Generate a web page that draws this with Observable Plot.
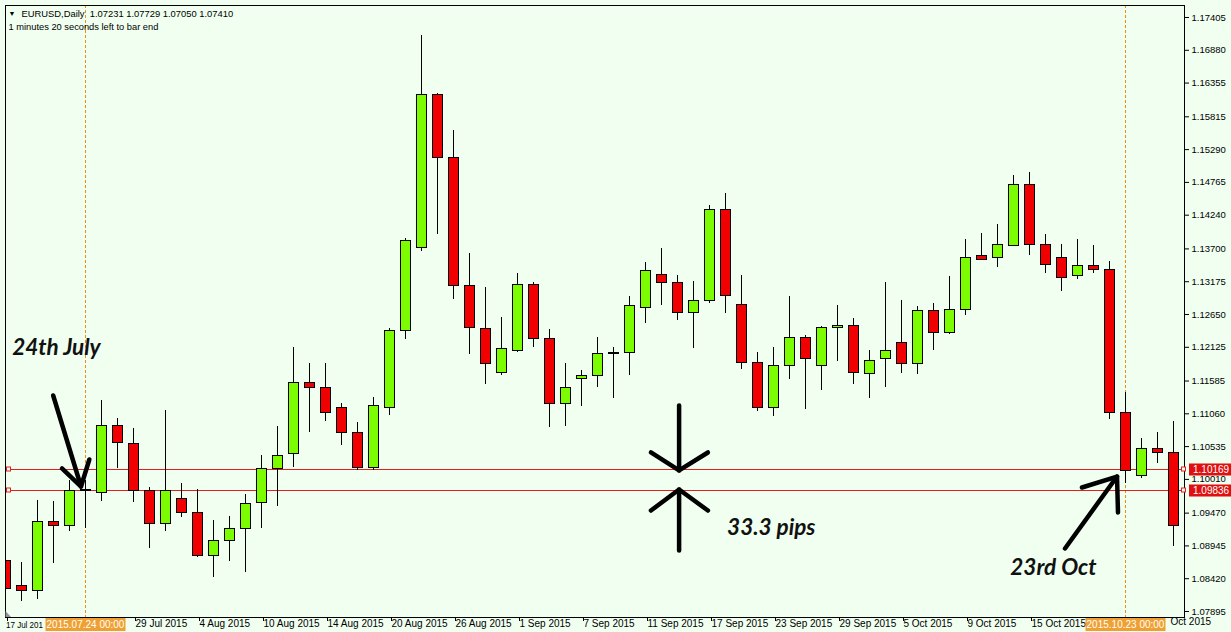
<!DOCTYPE html>
<html><head><meta charset="utf-8">
<script src="https://cdn.jsdelivr.net/npm/d3@7"></script>
<script src="https://cdn.jsdelivr.net/npm/@observablehq/plot@0.6"></script>
<style>
body{margin:0;background:#F0FFF0;}
#chart{position:relative;width:1231px;height:632px;overflow:hidden;}
</style>
</head><body><div id="chart"></div>
<script>
// ---- data (EURUSD daily) ----
const dates = ["2015-07-17","2015-07-20","2015-07-21","2015-07-22","2015-07-23","2015-07-24",
"2015-07-27","2015-07-28","2015-07-29","2015-07-30","2015-07-31",
"2015-08-03","2015-08-04","2015-08-05","2015-08-06","2015-08-07",
"2015-08-10","2015-08-11","2015-08-12","2015-08-13","2015-08-14",
"2015-08-17","2015-08-18","2015-08-19","2015-08-20","2015-08-21",
"2015-08-24","2015-08-25","2015-08-26","2015-08-27","2015-08-28",
"2015-08-31","2015-09-01","2015-09-02","2015-09-03","2015-09-04",
"2015-09-07","2015-09-08","2015-09-09","2015-09-10","2015-09-11",
"2015-09-14","2015-09-15","2015-09-16","2015-09-17","2015-09-18",
"2015-09-21","2015-09-22","2015-09-23","2015-09-24","2015-09-25",
"2015-09-28","2015-09-29","2015-09-30","2015-10-01","2015-10-02",
"2015-10-05","2015-10-06","2015-10-07","2015-10-08","2015-10-09",
"2015-10-12","2015-10-13","2015-10-14","2015-10-15","2015-10-16",
"2015-10-19","2015-10-20","2015-10-21","2015-10-22","2015-10-23",
"2015-10-26","2015-10-27","2015-10-28"];
const opens = [1.0871,1.0830,1.0822,1.0932,1.0926,1.0983,
1.0980,1.1087,1.1057,1.0982,1.0930,
1.0969,1.0948,1.0879,1.0903,1.0922,
1.0964,1.1017,1.1041,1.1156,1.1148,
1.1115,1.1076,1.1020,1.1116,1.1238,
1.1372,1.1616,1.1515,1.1310,1.1242,
1.1171,1.1206,1.1313,1.1225,1.1121,
1.1161,1.1167,1.1201,1.1203,1.1276,
1.1329,1.1315,1.1268,1.1287,1.1432,
1.1281,1.1187,1.1116,1.1183,1.1228,
1.1183,1.1243,1.1247,1.1169,1.1193,
1.1219,1.1185,1.1270,1.1235,1.1273,
1.1358,1.1356,1.1375,1.1472,1.1377,
1.1356,1.1326,1.1343,1.1337,1.1107,
1.1006,1.1050,1.1044];
const highs = [1.0903,1.0868,1.0967,1.0966,1.0999,1.0999,
1.1127,1.1099,1.1082,1.0988,1.1111,
1.0994,1.0985,1.0935,1.0942,1.0977,
1.1039,1.1086,1.1212,1.1187,1.1187,
1.1123,1.1092,1.1132,1.1243,1.1387,
1.1712,1.1619,1.1560,1.1363,1.1308,
1.1260,1.1331,1.1316,1.1241,1.1187,
1.1175,1.1228,1.1212,1.1294,1.1348,
1.1371,1.1328,1.1318,1.1440,1.1459,
1.1328,1.1204,1.1212,1.1294,1.1231,
1.1246,1.1279,1.1259,1.1207,1.1316,
1.1287,1.1278,1.1283,1.1326,1.1385,
1.1395,1.1409,1.1488,1.1492,1.1393,
1.1377,1.1385,1.1375,1.1350,1.1140,
1.1066,1.1076,1.1094];
const lows = [1.0807,1.0806,1.0809,1.0866,1.0918,1.0922,
1.0966,1.1018,1.0964,1.0890,1.0918,
1.0940,1.0876,1.0844,1.0870,1.0852,
1.0922,1.0958,1.1020,1.1076,1.1094,
1.1055,1.1015,1.1015,1.1103,1.1225,
1.1366,1.1393,1.1289,1.1201,1.1153,
1.1167,1.1204,1.1212,1.1084,1.1086,
1.1118,1.1148,1.1131,1.1167,1.1251,
1.1279,1.1255,1.1211,1.1283,1.1267,
1.1177,1.1110,1.1102,1.1161,1.1113,
1.1143,1.1190,1.1153,1.1131,1.1148,
1.1171,1.1169,1.1207,1.1233,1.1263,
1.1351,1.1340,1.1374,1.1360,1.1331,
1.1302,1.1321,1.1331,1.1097,1.0994,
1.1002,1.1026,1.0894];
const closes = [1.0826,1.0822,1.0932,1.0926,1.0983,1.0984,
1.1086,1.1059,1.0982,1.0930,1.0983,
1.0948,1.0879,1.0902,1.0922,1.0962,
1.1017,1.1039,1.1155,1.1148,1.1108,
1.1076,1.1020,1.1118,1.1239,1.1383,
1.1616,1.1515,1.1310,1.1244,1.1185,
1.1209,1.1313,1.1225,1.1121,1.1147,
1.1167,1.1201,1.1204,1.1278,1.1335,
1.1315,1.1267,1.1287,1.1432,1.1294,
1.1187,1.1116,1.1183,1.1228,1.1193,
1.1243,1.1247,1.1172,1.1191,1.1207,
1.1185,1.1270,1.1236,1.1273,1.1356,
1.1353,1.1377,1.1472,1.1377,1.1345,
1.1324,1.1343,1.1337,1.1107,1.1015,
1.1050,1.1044,1.0926];
const yTicks = [1.17405,1.16880,1.16355,1.15815,1.15290,1.14765,1.14240,1.13700,1.13175,1.12650,
1.12125,1.11585,1.11060,1.10535,1.10010,1.09470,1.08945,1.08420,1.07895];
// date ticks every 4 bars; labels as visible in the chart (some are covered by the marker boxes)
const xTickIdx = [0,4,8,12,16,20,24,28,32,36,40,44,48,52,56,60,64,68,72];
const xTickLabels = ["","","29 Jul 2015","4 Aug 2015","10 Aug 2015","14 Aug 2015","20 Aug 2015",
"26 Aug 2015","1 Sep 2015","7 Sep 2015","11 Sep 2015","17 Sep 2015","23 Sep 2015","29 Sep 2015",
"5 Oct 2015","9 Oct 2015","15 Oct 2015","",""];
const firstTickHead = "17 Jul 201";
const lastTickTail = "Oct 2015";
const levels = [1.10169, 1.09836];
const markedBars = [5, 70];
const markedLabels = ["2015.07.24 00:00", "2015.10.23 00:00"];
const headerTitle = "EURUSD,Daily\u00A0\u00A01.07231 1.07729 1.07050 1.07410";
const headerSub = "1 minutes 20 seconds left to bar end";
const notes = [
  {text: "24th July", x: 0.42, y: 1.1212},
  {text: "33.3 pips", x: 45.1, y: 1.0924},
  {text: "23rd Oct", x: 62.8, y: 1.0860}
];
// hand-drawn arrows, as polylines in (bar index, price)
const arrowLines = [
  {id: "a1", pts: [[2.98, 1.11353], [4.72, 1.09896]]},
  {id: "a1h", pts: [[3.53, 1.10185], [4.72, 1.09896], [5.24, 1.10329]]},
  {id: "a2", pts: [[42.1, 1.11193], [42.1, 1.10153]]},
  {id: "a2h", pts: [[40.34, 1.10441], [42.1, 1.10153], [43.9, 1.10441]]},
  {id: "a3", pts: [[42.1, 1.08872], [42.1, 1.09848]]},
  {id: "a3h", pts: [[40.34, 1.09512], [42.1, 1.09848], [43.9, 1.09512]]},
  {id: "a4", pts: [[66.22, 1.08904], [69.47, 1.10056]]},
  {id: "a4h", pts: [[67.28, 1.09880], [69.47, 1.10056], [69.53, 1.09480]]}
];

// ---- build ----
const data = dates.map((d, i) => ({i, o: opens[i], h: highs[i], l: lows[i], c: closes[i]}));
const arrowPts = arrowLines.flatMap(a => a.pts.map(([x, y]) => ({id: a.id, x, y})));
const GREEN = "#7CFC00", RED = "#F00000", BG = "#F0FFF0", LEVEL = "#E02020", MARK = "#F08C10";
const FONT = "'Liberation Sans', Arial, sans-serif";
const CRISP = "crispEdges";

const plot = Plot.plot({
  width: 1231, height: 632,
  marginLeft: 5, marginRight: 47, marginTop: 5, marginBottom: 15,
  style: {background: BG, fontFamily: FONT, fontSize: "9.5px", color: "#000", overflow: "visible"},
  x: {domain: [0, 73.6875]},
  y: {domain: [1.07799, 1.17597]},
  marks: [
    Plot.ruleX(markedBars, {x: d => d, stroke: MARK, strokeDasharray: "3,2", shapeRendering: CRISP}),
    Plot.ruleY(levels, {stroke: LEVEL, strokeWidth: 1, shapeRendering: CRISP}),
    Plot.ruleX(data, {x: "i", y1: "l", y2: "h", stroke: "black", clip: true, shapeRendering: CRISP}),
    Plot.rect(data, {x1: d => d.i - 0.3125, x2: d => d.i + 0.3125, y1: "o", y2: "c",
      fill: d => d.c >= d.o ? GREEN : RED, stroke: "black", strokeWidth: 1, clip: true, shapeRendering: CRISP}),
    Plot.frame({stroke: "black", shapeRendering: CRISP}),
    Plot.axisY(yTicks, {anchor: "right", tickSize: 4, tickPadding: 3, tickFormat: d => d.toFixed(5)}),
    Plot.axisX(xTickIdx, {anchor: "bottom", tickSize: 4, tickPadding: -2, textAnchor: "start", dx: 2,
      fontSize: 10, tickFormat: (d, k) => xTickLabels[k]}),
    Plot.text([72], {x: d => d, frameAnchor: "bottom", dx: 13, dy: 7, textAnchor: "start",
      fontSize: 10, text: () => lastTickTail}),
    Plot.line(arrowPts, {x: "x", y: "y", z: "id", stroke: "black", strokeWidth: 4.5,
      strokeLinecap: "round", strokeLinejoin: "round"}),
    Plot.text(notes, {x: "x", y: "y", text: "text", textAnchor: "start", fontSize: 22.5,
      fontWeight: "bold", fontStyle: "italic", fontFamily: "Lato, 'Open Sans', sans-serif", fill: "#111"}),
    Plot.text([headerTitle], {frameAnchor: "top-left", dx: 16, dy: 5, fontSize: 9.4, fill: "#000"}),
    Plot.text(["\u25BC"], {frameAnchor: "top-left", dx: 3, dy: 6, fontSize: 7, fill: "#000"}),
    Plot.text([headerSub], {frameAnchor: "top-left", dx: 3, dy: 18, fontSize: 9.3, fill: "#000"})
  ]
});

// overlays positioned through the plot's own scales
const sx = plot.scale("x"), sy = plot.scale("y");
const svg = d3.select(plot);
const right = sx.apply(sx.domain[1]);
const left = sx.apply(sx.domain[0]);
const bottom = sy.apply(sy.domain[0]);
levels.forEach(v => {
  const y = Math.round(sy.apply(v)) + 0.5;
  svg.append("rect").attr("x", left + 1.5).attr("y", y - 2.5).attr("width", 4).attr("height", 4)
    .attr("fill", BG).attr("stroke", LEVEL);
  svg.append("rect").attr("x", right - 2.5).attr("y", y - 2.5).attr("width", 4).attr("height", 4)
    .attr("fill", BG).attr("stroke", LEVEL);
  svg.append("rect").attr("x", right + 5).attr("y", y - 6).attr("width", 42).attr("height", 12)
    .attr("fill", "#E01010");
  svg.append("text").attr("x", right + 9).attr("y", y + 3.5).attr("fill", "white")
    .attr("text-anchor", "start").attr("font-family", FONT).attr("font-size", "10px").text(v.toFixed(5));
});
// first date label, partly hidden behind the marker box as in the chart
svg.append("text").attr("x", left + 1).attr("y", bottom + 10.5).attr("fill", "black")
  .attr("text-anchor", "start").attr("font-family", FONT).attr("font-size", "9.5px")
  .attr("textLength", 37).attr("lengthAdjust", "spacingAndGlyphs").text(firstTickHead);
markedBars.forEach((b, k) => {
  const cx = sx.apply(b) + 0.5;
  svg.append("rect").attr("x", cx - 40).attr("y", bottom + 1).attr("width", 80).attr("height", 13)
    .attr("fill", "#F0A030");
  svg.append("text").attr("x", cx).attr("y", bottom + 11).attr("text-anchor", "middle").attr("fill", "white")
    .attr("font-family", FONT).attr("font-size", "10px").text(markedLabels[k]);
});
svg.append("path").attr("d", `M${left + 0.5},${bottom - 6}L${left + 6},${bottom}L${left + 0.5},${bottom}Z`).attr("fill", "#909090");

document.getElementById("chart").appendChild(plot);
</script>
</body></html>
